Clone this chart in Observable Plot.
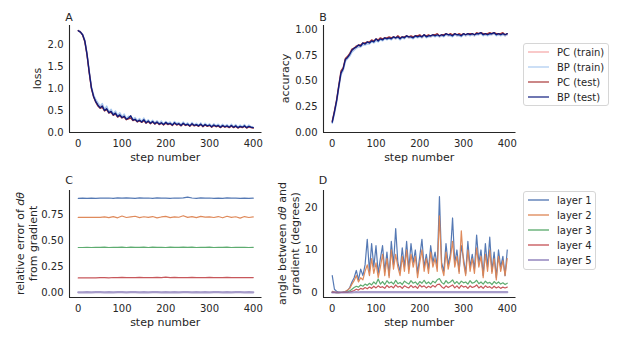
<!DOCTYPE html>
<html><head><meta charset="utf-8">
<script src="https://cdn.jsdelivr.net/npm/d3@7"></script>
<script src="https://cdn.jsdelivr.net/npm/@observablehq/plot@0.6"></script>
<style>
body{margin:0;background:#fff;font-family:"DejaVu Sans",sans-serif;color:#262626}
#wrap{position:relative;width:623px;height:340px;overflow:hidden;background:#fff}
.legend{position:absolute;border:1px solid #d6d6d6;border-radius:3px;background:#fff;font-size:10px;color:#262626;box-sizing:border-box}
.legend .row{position:absolute;left:0;height:14px;display:flex;align-items:center;white-space:nowrap}
</style></head>
<body><div id="wrap"></div>
<script>
// ---------- data ----------
const steps = d3.range(0, 401, 5);   // 81 steps for panels A, B, D
const stepsC = d3.range(0, 401, 10); // 41 steps for panel C
const xTicks = [0, 100, 200, 300, 400];

// Panel A: loss
const lossBPtest = [
 2.31,2.28,2.22,2.08,1.78,1.38,1.02,0.82,0.70,0.62,
 0.56,0.60,0.50,0.54,0.45,0.48,0.40,0.44,0.36,0.40,
 0.34,0.37,0.30,0.33,0.38,0.28,0.30,0.25,0.28,0.24,
 0.29,0.22,0.26,0.21,0.25,0.20,0.24,0.19,0.22,0.18,
 0.23,0.19,0.21,0.17,0.22,0.18,0.20,0.16,0.21,0.17,
 0.19,0.15,0.20,0.16,0.18,0.15,0.19,0.14,0.18,0.15,
 0.17,0.13,0.17,0.14,0.16,0.12,0.16,0.13,0.15,0.12,
 0.16,0.12,0.15,0.11,0.14,0.12,0.15,0.11,0.14,0.12,
 0.11];
const lossBPtrain = [
 2.32,2.29,2.23,2.10,1.80,1.41,1.05,0.86,0.75,0.68,
 0.60,0.66,0.53,0.60,0.48,0.53,0.43,0.49,0.39,0.45,
 0.36,0.42,0.32,0.37,0.35,0.31,0.34,0.27,0.32,0.26,
 0.33,0.24,0.29,0.23,0.28,0.22,0.27,0.21,0.26,0.19,
 0.25,0.21,0.24,0.18,0.25,0.20,0.23,0.18,0.24,0.18,
 0.22,0.16,0.23,0.17,0.21,0.16,0.22,0.15,0.21,0.16,
 0.20,0.15,0.20,0.15,0.19,0.14,0.19,0.14,0.18,0.13,
 0.19,0.13,0.18,0.12,0.17,0.13,0.18,0.12,0.17,0.13,
 0.12];
const lossPCtest = [
 2.31,2.28,2.21,2.06,1.76,1.36,1.00,0.81,0.69,0.60,
 0.55,0.57,0.49,0.52,0.44,0.46,0.39,0.42,0.35,0.38,
 0.33,0.35,0.29,0.31,0.33,0.27,0.29,0.24,0.27,0.23,
 0.27,0.21,0.25,0.20,0.24,0.19,0.23,0.18,0.21,0.17,
 0.21,0.18,0.20,0.16,0.21,0.17,0.19,0.15,0.20,0.16,
 0.18,0.14,0.19,0.15,0.17,0.14,0.18,0.13,0.17,0.14,
 0.16,0.12,0.16,0.13,0.15,0.11,0.15,0.12,0.14,0.11,
 0.15,0.11,0.14,0.10,0.13,0.11,0.14,0.10,0.13,0.11,
 0.10];
const lossPCtrain = [
 2.32,2.29,2.22,2.09,1.79,1.39,1.03,0.84,0.72,0.64,
 0.58,0.62,0.51,0.56,0.46,0.50,0.41,0.46,0.37,0.42,
 0.35,0.39,0.31,0.35,0.34,0.29,0.32,0.26,0.30,0.25,
 0.31,0.23,0.27,0.22,0.26,0.21,0.25,0.20,0.24,0.18,
 0.24,0.20,0.22,0.17,0.23,0.19,0.21,0.17,0.22,0.17,
 0.20,0.15,0.21,0.16,0.19,0.15,0.20,0.14,0.19,0.15,
 0.18,0.14,0.18,0.14,0.17,0.13,0.17,0.13,0.16,0.12,
 0.17,0.12,0.16,0.11,0.15,0.12,0.16,0.11,0.15,0.12,
 0.11];

// Panel B: accuracy
const accBPtest = [
 0.10,0.20,0.31,0.45,0.58,0.62,0.71,0.73,0.76,0.80,
 0.82,0.83,0.85,0.84,0.87,0.86,0.88,0.87,0.89,0.88,
 0.91,0.89,0.91,0.90,0.92,0.91,0.92,0.91,0.93,0.92,
 0.93,0.91,0.93,0.92,0.94,0.93,0.93,0.92,0.94,0.93,
 0.94,0.93,0.95,0.93,0.94,0.94,0.95,0.94,0.95,0.94,
 0.95,0.94,0.96,0.95,0.95,0.94,0.96,0.95,0.95,0.94,
 0.96,0.95,0.96,0.95,0.96,0.95,0.96,0.96,0.97,0.95,
 0.96,0.95,0.96,0.96,0.97,0.95,0.96,0.95,0.96,0.95,
 0.96];
const accBPtrain = [
 0.09,0.18,0.29,0.43,0.56,0.60,0.69,0.72,0.74,0.78,
 0.80,0.82,0.83,0.83,0.85,0.85,0.86,0.86,0.88,0.87,
 0.89,0.88,0.90,0.89,0.91,0.90,0.91,0.90,0.92,0.91,
 0.92,0.90,0.92,0.91,0.93,0.92,0.92,0.91,0.93,0.92,
 0.93,0.92,0.94,0.92,0.93,0.93,0.94,0.93,0.94,0.93,
 0.94,0.93,0.95,0.94,0.94,0.93,0.95,0.94,0.94,0.93,
 0.95,0.94,0.95,0.94,0.95,0.94,0.95,0.95,0.96,0.94,
 0.95,0.94,0.95,0.95,0.96,0.94,0.95,0.94,0.95,0.94,
 0.95];
const accPCtest = [
 0.11,0.21,0.32,0.46,0.60,0.63,0.72,0.74,0.77,0.81,
 0.82,0.84,0.85,0.85,0.87,0.87,0.88,0.88,0.90,0.89,
 0.91,0.90,0.92,0.91,0.92,0.92,0.93,0.92,0.93,0.92,
 0.94,0.92,0.93,0.93,0.94,0.93,0.94,0.93,0.94,0.94,
 0.95,0.93,0.95,0.94,0.95,0.94,0.95,0.95,0.96,0.94,
 0.95,0.95,0.96,0.95,0.96,0.95,0.96,0.95,0.96,0.95,
 0.96,0.95,0.96,0.96,0.96,0.95,0.97,0.96,0.97,0.96,
 0.96,0.96,0.97,0.96,0.97,0.96,0.96,0.96,0.97,0.95,
 0.96];
const accPCtrain = [
 0.10,0.19,0.30,0.44,0.57,0.61,0.70,0.72,0.75,0.79,
 0.81,0.82,0.84,0.84,0.86,0.86,0.87,0.87,0.89,0.88,
 0.90,0.89,0.91,0.90,0.91,0.91,0.92,0.91,0.92,0.91,
 0.93,0.91,0.92,0.92,0.93,0.92,0.93,0.92,0.93,0.93,
 0.94,0.92,0.94,0.93,0.94,0.93,0.94,0.94,0.95,0.93,
 0.94,0.94,0.95,0.94,0.95,0.94,0.95,0.94,0.95,0.94,
 0.95,0.94,0.95,0.95,0.95,0.94,0.96,0.95,0.96,0.95,
 0.95,0.95,0.96,0.95,0.96,0.95,0.95,0.95,0.96,0.94,
 0.95];

// Panel C: relative error (by layer)
const relErr1 = [
 0.905,0.906,0.905,0.906,0.905,0.907,0.906,0.908,0.905,0.909,
 0.906,0.910,0.907,0.904,0.909,0.906,0.908,0.905,0.909,0.906,
 0.907,0.905,0.908,0.906,0.909,0.917,0.908,0.904,0.909,0.906,
 0.908,0.905,0.907,0.904,0.909,0.906,0.907,0.904,0.906,0.905,
 0.906];
const relErr2 = [
 0.722,0.722,0.723,0.722,0.723,0.722,0.726,0.720,0.729,0.718,
 0.735,0.721,0.727,0.733,0.719,0.728,0.722,0.730,0.717,0.726,
 0.731,0.720,0.727,0.723,0.738,0.722,0.729,0.719,0.732,0.724,
 0.727,0.721,0.730,0.718,0.733,0.722,0.728,0.715,0.730,0.721,
 0.726];
const relErr3 = [
 0.433,0.433,0.434,0.433,0.435,0.434,0.436,0.433,0.435,0.434,
 0.437,0.433,0.436,0.435,0.434,0.437,0.433,0.436,0.434,0.435,
 0.433,0.436,0.434,0.435,0.437,0.434,0.436,0.433,0.435,0.434,
 0.436,0.433,0.435,0.434,0.436,0.433,0.435,0.434,0.435,0.433,
 0.434];
const relErr4 = [
 0.141,0.141,0.142,0.141,0.142,0.143,0.144,0.142,0.145,0.143,
 0.146,0.144,0.145,0.143,0.146,0.144,0.145,0.143,0.146,0.144,
 0.149,0.144,0.146,0.143,0.145,0.144,0.146,0.143,0.145,0.144,
 0.147,0.143,0.145,0.144,0.146,0.143,0.145,0.144,0.145,0.143,
 0.144];
const relErr5 = [
 0.003,0.003,0.004,0.003,0.004,0.004,0.003,0.004,0.003,0.004,
 0.004,0.003,0.004,0.004,0.003,0.004,0.003,0.004,0.004,0.003,
 0.004,0.003,0.004,0.003,0.004,0.004,0.003,0.004,0.003,0.004,
 0.003,0.004,0.004,0.003,0.004,0.003,0.004,0.004,0.003,0.004,
 0.003];

// Panel D: angle (degrees, by layer)
const angle1 = [
 4.0,0.8,0.3,0.1,0.05,0.1,0.2,0.5,1.2,2.5,
 3.5,5.2,3.0,5.5,4.0,6.5,12.5,5.0,11.5,6.0,
 11.0,4.5,8.0,11.0,5.0,9.5,4.0,12.0,6.5,15.0,
 7.0,5.0,10.5,6.0,12.0,5.5,11.5,7.0,10.0,4.5,
 8.5,12.5,6.0,9.0,5.5,11.0,7.0,9.5,6.0,22.5,
 7.0,5.0,11.5,6.5,9.0,17.5,7.0,10.0,5.0,11.0,
 8.0,4.5,12.0,6.0,9.0,5.5,13.5,7.0,10.0,4.0,
 11.5,6.0,13.0,5.0,9.5,3.5,10.0,6.0,8.5,4.0,
 10.0];
const angle2 = [
 0.3,0.2,0.1,0.05,0.05,0.1,0.3,0.6,1.0,2.0,
 2.8,4.0,2.5,3.5,3.0,5.0,6.5,4.0,8.0,4.5,
 7.0,3.5,6.0,9.0,4.0,8.0,3.5,10.0,5.5,9.0,
 6.0,4.0,8.5,5.0,10.0,4.5,9.0,6.0,8.5,3.5,
 7.0,10.0,5.0,8.0,4.5,9.5,6.0,8.0,5.0,18.0,
 6.0,4.0,9.5,5.5,8.0,12.0,6.0,8.5,4.5,14.5,
 7.0,4.0,10.0,5.0,8.0,4.5,10.5,6.0,8.5,3.5,
 9.0,5.0,10.0,4.5,8.0,3.0,8.5,5.0,7.5,4.0,
 8.0];
const angle3 = [
 0.05,0.03,0.02,0.02,0.03,0.05,0.1,0.2,0.4,0.8,
 1.2,1.5,1.3,1.8,1.5,2.0,1.7,2.2,1.8,2.5,
 2.0,3.2,2.0,2.6,1.9,2.8,2.2,2.5,2.0,2.9,
 2.1,2.4,1.9,2.7,2.3,2.0,2.8,2.2,2.5,1.9,
 2.6,2.2,2.9,2.1,2.5,2.0,2.7,2.3,3.0,3.3,
 2.4,2.0,2.8,2.2,2.5,3.0,2.1,2.6,2.0,2.7,
 2.3,2.5,2.0,2.8,2.2,2.4,2.9,2.1,2.5,2.0,
 2.7,2.2,2.4,1.9,2.6,2.1,2.5,2.0,2.3,1.9,
 2.2];
const angle4 = [
 0.05,0.03,0.02,0.02,0.03,0.04,0.05,0.08,0.15,0.3,
 0.5,0.8,0.6,1.0,0.8,1.2,0.9,1.3,1.0,1.5,
 1.1,1.6,1.2,1.4,1.0,1.7,1.2,1.5,1.1,1.8,
 1.3,1.5,1.0,1.6,1.3,1.1,1.7,1.2,1.5,1.0,
 1.8,1.3,1.6,1.1,1.5,1.2,1.7,1.3,1.9,2.0,
 1.4,1.0,1.6,1.2,1.5,1.8,1.1,1.6,1.0,1.7,
 1.3,1.5,1.0,1.6,1.2,1.4,1.8,1.1,1.5,1.0,
 1.6,1.2,1.4,1.0,1.5,1.1,1.4,1.0,1.3,1.1,
 1.3];
const angle5 = [
 0.05,0.04,0.03,0.03,0.03,0.04,0.05,0.06,0.07,0.08,
 0.09,0.10,0.09,0.11,0.10,0.11,0.10,0.12,0.10,0.11,
 0.11,0.12,0.10,0.12,0.11,0.12,0.10,0.11,0.12,0.11,
 0.12,0.10,0.11,0.12,0.11,0.10,0.12,0.11,0.12,0.10,
 0.11,0.12,0.11,0.10,0.12,0.11,0.12,0.10,0.11,0.13,
 0.11,0.10,0.12,0.11,0.12,0.11,0.10,0.12,0.11,0.12,
 0.11,0.12,0.10,0.11,0.12,0.11,0.12,0.10,0.11,0.12,
 0.11,0.10,0.12,0.11,0.12,0.10,0.11,0.12,0.11,0.10,
 0.11];

const trainTestNames = ["PC (train)", "BP (train)", "PC (test)", "BP (test)"];
const trainTestColors = ["#f6a5a5", "#a9c9ef", "#a83636", "#0d1c7e"];
const layerNames = ["layer 1", "layer 2", "layer 3", "layer 4", "layer 5"];
const layerColors = ["#4c72b0", "#dd8452", "#55a868", "#c44e52", "#8172b3"];

// ---------- drawing ----------
const wrap = d3.select("#wrap");
const INK = "#262626";

function toRows(xs, ys) { return xs.map((s, i) => ({step: s, v: ys[i]})); }

function panel(o) {
  const W = 290, H = 170;
  const marks = o.series.map((s, i) => Plot.line(toRows(s.x, s.y), {
    x: "step", y: "v", stroke: o.colors[i], strokeWidth: o.widths ? o.widths[i] : 1.35,
    strokeOpacity: o.opacity ? o.opacity[i] : 1
  }));
  const svg = Plot.plot({
    width: W, height: H,
    marginLeft: 69, marginRight: 28.5, marginTop: o.mt, marginBottom: H - o.bottom,
    style: {background: "transparent", fontFamily: "DejaVu Sans, sans-serif", fontSize: "10px", color: INK, overflow: "visible"},
    x: {domain: [-20, 420], ticks: xTicks, tickSize: 0, tickPadding: 7, label: null},
    y: {domain: o.yDomain, ticks: o.yTicks, tickFormat: d3.format(o.fmt), tickSize: 0, tickPadding: 6, label: null},
    marks: [
      ...marks,
      Plot.ruleX([-20], {stroke: INK, strokeWidth: 1.1}),
      Plot.ruleY([o.yDomain[0]], {stroke: INK, strokeWidth: 1.1})
    ]
  });
  const s = d3.select(svg).style("position", "absolute").style("left", o.left + "px").style("top", o.top + "px");
  // panel letter
  s.append("text").attr("x", 69).attr("y", o.letterY).attr("font-size", 11).attr("fill", INK)
    .attr("font-family", "DejaVu Sans, sans-serif").text(o.letter);
  // x label
  s.append("text").attr("x", (69 + W - 28.5) / 2).attr("y", 161).attr("font-size", 11).attr("fill", INK)
    .attr("text-anchor", "middle").attr("font-family", "DejaVu Sans, sans-serif").text("step number");
  // y label lines
  const cy = (o.mt + o.bottom) / 2;
  o.ylabel.forEach((line, i) => {
    const t = s.append("text").attr("transform", `translate(${o.ylx[i]},${cy}) rotate(-90)`)
      .attr("text-anchor", "middle").attr("dy", "0.35em").attr("font-size", 11).attr("fill", INK)
      .attr("font-family", "DejaVu Sans, sans-serif");
    line.forEach(part => {
      const ts = t.append("tspan").text(part.t);
      if (part.i) ts.attr("font-style", "italic");
    });
  });
  wrap.node().appendChild(svg);
}

function legend(left, top, w, h, names, colors, opacity) {
  const div = wrap.append("div").attr("class", "legend")
    .style("left", left + "px").style("top", top + "px").style("width", w + "px").style("height", h + "px");
  names.forEach((n, i) => {
    const row = div.append("div").attr("class", "row").style("top", (1 + i * 15) + "px");
    const sv = row.append("svg").attr("width", 33).attr("height", 14);
    sv.append("line").attr("x1", 4).attr("x2", 25).attr("y1", 7).attr("y2", 7)
      .attr("stroke", colors[i]).attr("stroke-width", 1.6).attr("stroke-opacity", opacity);
    row.append("span").text(n);
  });
}

panel({
  left: 0, top: 0, mt: 25, bottom: 132, letter: "A", letterY: 21,
  series: [{x: steps, y: lossPCtrain}, {x: steps, y: lossBPtrain}, {x: steps, y: lossPCtest}, {x: steps, y: lossBPtest}],
  colors: trainTestColors, yDomain: [0, 2.43], yTicks: [0, 0.5, 1, 1.5, 2], fmt: ".1f",
  ylabel: [[{t: "loss"}]], ylx: [37]
});
panel({
  left: 254, top: 0, mt: 25, bottom: 132, letter: "B", letterY: 21,
  series: [{x: steps, y: accPCtrain}, {x: steps, y: accBPtrain}, {x: steps, y: accPCtest}, {x: steps, y: accBPtest}],
  colors: trainTestColors, yDomain: [0, 1.04], yTicks: [0, 0.25, 0.5, 0.75, 1], fmt: ".2f",
  ylabel: [[{t: "accuracy"}]], ylx: [31]
});
panel({
  left: 0, top: 165, mt: 25, bottom: 132, letter: "C", letterY: 19,
  series: [relErr1, relErr2, relErr3, relErr4, relErr5].map(y => ({x: stepsC, y})),
  colors: layerColors, widths: [1.2, 1.2, 1.2, 1.2, 2.2], opacity: [0.95, 0.95, 0.95, 0.95, 0.7],
  yDomain: [-0.047, 0.98], yTicks: [0, 0.25, 0.5, 0.75], fmt: ".2f",
  ylabel: [[{t: "relative error of "}, {t: "dθ", i: true}], [{t: "from gradient"}]], ylx: [20, 33]
});
panel({
  left: 254, top: 165, mt: 25, bottom: 132, letter: "D", letterY: 19,
  series: [angle1, angle2, angle3, angle4, angle5].map(y => ({x: steps, y})),
  colors: layerColors, widths: [1.2, 1.2, 1.2, 1.2, 2.2], opacity: [0.95, 0.95, 0.95, 0.95, 0.7],
  yDomain: [-1.14, 23.94], yTicks: [0, 10, 20], fmt: "d",
  ylabel: [[{t: "angle between "}, {t: "dθ", i: true}, {t: " and"}], [{t: "gradient (degrees)"}]], ylx: [28, 41]
});

legend(523, 43, 86, 63, trainTestNames, trainTestColors, 0.75);
legend(523, 191, 73, 79, layerNames, layerColors, 0.8);
</script>
</body></html>
